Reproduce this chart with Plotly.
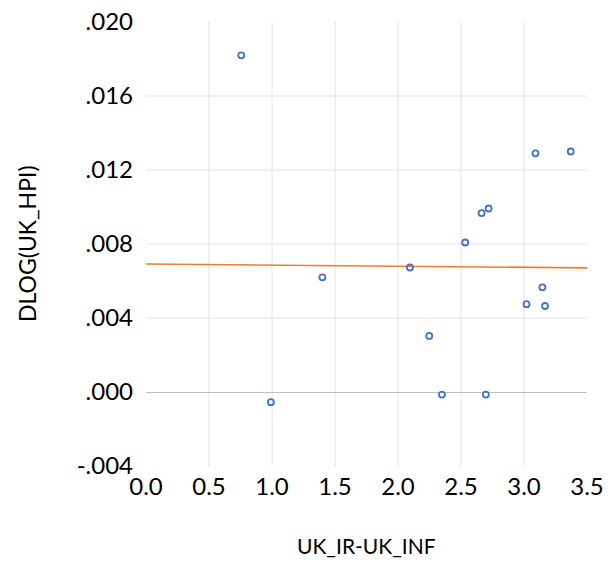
import plotly.graph_objects as go

# Data
uk_ir_minus_inf = [0.756, 3.091, 3.371, 2.663, 2.719, 2.533, 2.095, 1.400,
                   3.146, 3.020, 3.167, 2.248, 2.349, 2.697, 0.991]
dlog_uk_hpi = [0.0182, 0.0129, 0.0130, 0.00967, 0.00992, 0.00808, 0.00673, 0.00620,
               0.00566, 0.00475, 0.00465, 0.00303, -0.00014, -0.00014, -0.00055]

trend_x = [0.0, 3.5]
trend_y = [0.00692, 0.00671]

x_ticks = [0.0, 0.5, 1.0, 1.5, 2.0, 2.5, 3.0, 3.5]
x_tick_labels = ["0.0", "0.5", "1.0", "1.5", "2.0", "2.5", "3.0", "3.5"]
y_ticks = [0.020, 0.016, 0.012, 0.008, 0.004, 0.000, -0.004]
y_tick_labels = [".020", ".016", ".012", ".008", ".004", ".000", "-.004"]

GRID = "#E4E4E4"
FONT = "Lato"

fig = go.Figure()
fig.add_trace(go.Scatter(
    x=trend_x, y=trend_y, mode="lines",
    line=dict(color="#ED7D31", width=1.6),
    showlegend=False, hoverinfo="skip"))
fig.add_trace(go.Scatter(
    x=uk_ir_minus_inf, y=dlog_uk_hpi, mode="markers",
    marker=dict(symbol="circle-open", size=6, color="#4472C4",
                line=dict(color="#4472C4", width=1.8)),
    showlegend=False))

shapes = []
for xv in x_ticks[1:-1]:
    shapes.append(dict(type="line", xref="x", yref="paper", x0=xv, x1=xv, y0=0, y1=1,
                       line=dict(color=GRID, width=1), layer="below"))
for yv in y_ticks[1:-1]:
    if yv == 0:
        continue
    shapes.append(dict(type="line", xref="paper", yref="y", x0=0, x1=1, y0=yv, y1=yv,
                       line=dict(color=GRID, width=1), layer="below"))

fig.update_layout(
    width=610, height=566,
    margin=dict(l=146, r=23, t=22, b=100, pad=0, autoexpand=False),
    paper_bgcolor="white", plot_bgcolor="white",
    font=dict(family=FONT, color="#000000"),
    shapes=shapes,
    xaxis=dict(range=[0, 3.5], tickvals=x_ticks, ticktext=x_tick_labels,
               showgrid=False, zeroline=False, showline=False, ticks="",
               automargin=False, ticklabeloverflow="allow",
               tickfont=dict(size=24, family=FONT), ticklabelstandoff=4),
    yaxis=dict(range=[-0.004, 0.020], tickvals=y_ticks, ticktext=y_tick_labels,
               showgrid=False, zeroline=True, zerolinecolor="#BFBFBF", zerolinewidth=1.3,
               showline=False, ticks="", automargin=False, ticklabeloverflow="allow",
               tickfont=dict(size=24, family=FONT), ticklabelstandoff=12),
    annotations=[
        dict(text="UK_IR-UK_INF", xref="paper", yref="paper", x=0.5, y=0,
             xanchor="center", yanchor="middle", yshift=-79, showarrow=False,
             font=dict(size=21, family=FONT)),
        dict(text="DLOG(UK_HPI)", xref="paper", yref="paper", x=0, y=0.5,
             xanchor="center", yanchor="middle", xshift=-119, textangle=-90,
             showarrow=False, font=dict(size=23, family=FONT)),
    ],
)

fig.write_html("out.html",
               config={"displayModeBar": False},
               post_script="document.body.style.margin='0';document.body.style.padding='0';")
